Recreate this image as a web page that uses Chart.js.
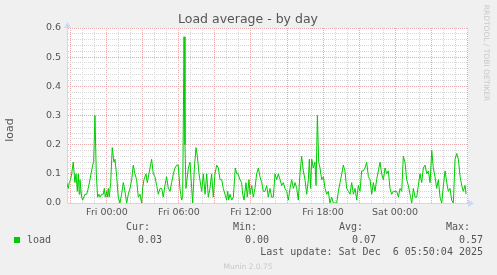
<!DOCTYPE html>
<html>
<head>
<meta charset="utf-8">
<script src="https://cdn.jsdelivr.net/npm/chart.js@4/dist/chart.umd.min.js"></script>
<style>
  body { margin: 0; background: #f0f0f0; }
  #canvas { display: block; }
</style>
</head>
<body>
<canvas id="canvas" width="497" height="275"></canvas>
<script>
// hours since Fri 00:00
var times = [
    -3.36, -3.22, -3.14, -3.03, -2.94, -2.81, -2.67, -2.58, -2.47, -2.39, -2.31, -2.25, -2.11, -2.03,
    -1.83, -1.69, -1.56, -1.42, -1.28, -1.19, -1.11, -1.00, -0.89, -0.78, -0.67, -0.58, -0.44, -0.31,
    -0.22, -0.14, -0.03, 0.03, 0.11, 0.19, 0.31, 0.44, 0.58, 0.67, 0.81, 0.94, 1.08, 1.22, 1.36, 1.50,
    1.64, 1.78, 1.92, 2.06, 2.19, 2.33, 2.47, 2.61, 2.75, 2.89, 2.97, 3.08, 3.25, 3.36, 3.72, 3.86,
    4.00, 4.14, 4.28, 4.42, 4.56, 4.69, 4.83, 4.97, 5.11, 5.25, 5.39, 5.53, 5.67, 5.81, 5.94, 6.08,
    6.22, 6.31, 6.42, 6.50, 6.58, 6.78, 6.92, 7.06, 7.14, 7.28, 7.42, 7.53, 7.67, 7.75, 7.89, 8.03,
    8.17, 8.31, 8.44, 8.58, 8.72, 8.86, 9.00, 9.14, 9.28, 9.42, 9.56, 9.69, 9.83, 9.97, 10.06, 10.14,
    10.25, 10.39, 10.53, 10.69, 10.81, 10.92,
    11.08, 11.22, 11.31, 11.42, 11.58, 11.69, 11.83, 11.92, 12.06, 12.19, 12.33, 12.47, 12.61, 12.75,
    12.89, 13.03, 13.17, 13.31, 13.44, 13.58, 13.72, 13.86, 14.00, 14.14, 14.28, 14.42, 14.56, 14.69,
    14.83, 14.97, 15.11, 15.25, 15.39, 15.53, 15.67, 15.81, 15.94, 16.08, 16.22, 16.36, 16.50, 16.64,
    16.78, 16.86, 16.97, 17.06, 17.19, 17.33, 17.42, 17.53, 17.64, 17.75, 17.89, 18.03, 18.17, 18.31,
    18.44, 18.58, 18.72, 18.86, 19.00, 19.14, 19.28, 19.42, 19.56, 19.69, 19.83, 19.97, 20.11, 20.25,
    20.39, 20.53, 20.67, 20.81, 20.94, 21.08, 21.22, 21.36, 21.50, 21.64, 21.78, 21.92, 22.06, 22.19,
    22.33, 22.47, 22.61, 22.75, 22.89, 23.03, 23.17, 23.31, 23.44, 23.58, 23.72, 23.86, 24.00, 24.14,
    24.28, 24.42, 24.56, 24.69, 24.83, 24.97, 25.11, 25.25, 25.39, 25.53, 25.67, 25.81, 25.94, 26.08,
    26.22, 26.36, 26.50, 26.64, 26.78, 26.92, 27.06, 27.19, 27.33, 27.47, 27.61, 27.75, 27.89, 28.03,
    28.17, 28.31, 28.44, 28.58, 28.72, 28.86, 29.00, 29.14, 29.28, 29.42, 29.56, 29.69, 29.83, 29.92
];
var load = [
    0.07, 0.05, 0.07, 0.08, 0.10, 0.14, 0.07, 0.10, 0.04, 0.10, 0.03, 0.08, 0.02, 0.01,
    0.03, 0.03, 0.05, 0.08, 0.11, 0.13, 0.14, 0.30, 0.10, 0.02, 0.03, 0.02, 0.03, 0.03,
    0.05, 0.02, 0.04, 0.02, 0.05, 0.02, 0.07, 0.19, 0.14, 0.15, 0.09, 0.02, 0.00, 0.03, 0.07, 0.04,
    0.00, 0.03, 0.05, 0.08, 0.13, 0.10, 0.08, 0.02, 0.03, 0.00, 0.05, 0.08, 0.10, 0.07, 0.15, 0.10,
    0.09, 0.06, 0.03, 0.05, 0.05, 0.02, 0.06, 0.09, 0.05, 0.04, 0.07, 0.10, 0.12, 0.13, 0.13, 0.05,
    0.01, 0.02, 0.57, 0.20, 0.05, 0.12, 0.14, 0.05, 0.00, 0.12, 0.19, 0.16, 0.10, 0.10, 0.04, 0.10,
    0.03, 0.10, 0.02, 0.05, 0.10, 0.02, 0.10, 0.13, 0.12, 0.08, 0.08, 0.05, 0.03, 0.01, 0.04, 0.01,
    0.03, 0.01, 0.02, 0.12, 0.10, 0.10,
    0.08, 0.07, 0.03, 0.01, 0.07, 0.02, 0.08, 0.03, 0.06, 0.02, 0.05, 0.10, 0.12, 0.09,
    0.07, 0.04, 0.04, 0.06, 0.02, 0.05, 0.02, 0.02, 0.10, 0.08, 0.10, 0.08, 0.06, 0.07,
    0.05, 0.04, 0.01, 0.05, 0.08, 0.05, 0.07, 0.05, 0.01, 0.10, 0.16, 0.11, 0.08, 0.03,
    0.08, 0.15, 0.05, 0.15, 0.12, 0.14, 0.06, 0.30, 0.14, 0.12, 0.08, 0.09, 0.05, 0.03,
    0.04, 0.00, 0.02, 0.00, 0.00, 0.00, 0.04, 0.07, 0.10, 0.13, 0.11, 0.05, 0.04, 0.03,
    0.07, 0.03, 0.05, 0.01, 0.06, 0.04, 0.11, 0.11, 0.12, 0.14, 0.09, 0.08, 0.03, 0.07,
    0.04, 0.08, 0.11, 0.14, 0.10, 0.08, 0.12, 0.10, 0.11, 0.05, 0.03, 0.04, 0.04, 0.04,
    0.02, 0.05, 0.04, 0.16, 0.14, 0.08, 0.06, 0.03, 0.00, 0.05, 0.02, 0.02, 0.06, 0.10,
    0.07, 0.12, 0.13, 0.10, 0.11, 0.07, 0.18, 0.12, 0.09, 0.05, 0.08, 0.02, 0.00, 0.06,
    0.11, 0.07, 0.04, 0.05, 0.01, 0.00, 0.15, 0.17, 0.15, 0.09, 0.06, 0.04, 0.06, 0.03
];

var xTickHours = [0, 6, 12, 18, 24];
var xTickLabels = ['Fri 00:00', 'Fri 06:00', 'Fri 12:00', 'Fri 18:00', 'Sat 00:00'];
var xMin = -3.33;
var xMax = 30.08;

var statNames = ['Cur:', 'Min:', 'Avg:', 'Max:'];
var statValues = ['0.03', '0.00', '0.07', '0.57'];
var lastUpdate = 'Last update: Sat Dec  6 05:50:04 2025';

var points = [];
for (var i = 0; i < times.length; i++) {
    points.push({x: times[i], y: load[i]});
}

var MAJOR = '#e8aaaa';
var MINOR = '#d6d6d6';
var AXIS = '#cfd6f8';

var munin = {
    id: 'munin',
    beforeDraw: function (chart) {
        var ctx = chart.ctx;
        var a = chart.chartArea;
        ctx.save();
        ctx.fillStyle = '#f0f0f0';
        ctx.fillRect(0, 0, chart.width, chart.height);
        ctx.fillStyle = '#ffffff';
        ctx.fillRect(a.left, a.top, a.right - a.left, a.bottom - a.top);
        ctx.restore();
    },
    afterDraw: function (chart) {
        var ctx = chart.ctx;
        var a = chart.chartArea;
        ctx.save();

        // arrows
        ctx.fillStyle = AXIS;
        ctx.beginPath();
        ctx.moveTo(a.left - 3, a.top);
        ctx.lineTo(a.left + 0.5, a.top - 6);
        ctx.lineTo(a.left + 4, a.top);
        ctx.fill();
        ctx.beginPath();
        ctx.moveTo(a.right, a.bottom - 3.5);
        ctx.lineTo(a.right + 6, a.bottom + 0.5);
        ctx.lineTo(a.right, a.bottom + 4);
        ctx.fill();

        // title
        ctx.fillStyle = '#555555';
        ctx.font = '12.5px "DejaVu Sans"';
        ctx.textAlign = 'center';
        ctx.textBaseline = 'middle';
        ctx.fillText('Load average - by day', 248, 20);

        // y label
        ctx.save();
        ctx.translate(10, 130);
        ctx.rotate(-Math.PI / 2);
        ctx.font = '11px "DejaVu Sans"';
        ctx.fillText('load', 0, 0);
        ctx.restore();

        // side credit
        ctx.save();
        ctx.translate(486, 53);
        ctx.rotate(Math.PI / 2);
        ctx.fillStyle = '#c8c8c8';
        ctx.font = '7.5px "DejaVu Sans"';
        ctx.fillText('RRDTOOL / TOBI OETIKER', 0, 0);
        ctx.restore();

        // legend
        ctx.font = '10px "DejaVu Sans Mono"';
        ctx.fillStyle = '#555555';
        ctx.textAlign = 'right';
        var headX = [150, 257, 363, 470];
        var valX = [162, 269, 376, 483];
        for (var i = 0; i < statNames.length; i++) {
            ctx.fillText(statNames[i], headX[i], 227);
            ctx.fillText(statValues[i], valX[i], 240);
        }
        ctx.fillText(lastUpdate, 483, 252);
        ctx.textAlign = 'left';
        ctx.fillText('load', 27, 240);
        ctx.fillStyle = '#00cc00';
        ctx.fillRect(14, 237, 6, 6);

        ctx.fillStyle = '#c8c8c8';
        ctx.font = '7.5px "DejaVu Sans"';
        ctx.textAlign = 'center';
        ctx.fillText('Munin 2.0.75', 248, 267);

        ctx.restore();
    }
};

var config = {
    type: 'line',
    data: {
        datasets: [{
            label: 'load',
            data: points,
            borderColor: '#00cc00',
            backgroundColor: '#00cc00',
            borderWidth: 1,
            pointRadius: 0,
            tension: 0,
            fill: false
        }]
    },
    options: {
        responsive: false,
        animation: false,
        layout: {
            padding: {top: 28, right: 29, left: 0, bottom: 0}
        },
        plugins: {
            legend: {display: false},
            title: {display: false},
            tooltip: {enabled: false}
        },
        scales: {
            x: {
                type: 'linear',
                min: xMin,
                max: xMax,
                afterFit: function (scale) { scale.height = 72; },
                ticks: {
                    stepSize: 1,
                    includeBounds: false,
                    autoSkip: false,
                    maxRotation: 0,
                    padding: 4,
                    color: '#555555',
                    font: {family: 'DejaVu Sans', size: 9.5},
                    callback: function (value) {
                        var k = xTickHours.indexOf(Math.round(value));
                        return k >= 0 ? xTickLabels[k] : '';
                    }
                },
                grid: {
                    drawTicks: false,
                    color: function (c) {
                        return Math.round(c.tick.value) % 3 === 0 ? MAJOR : MINOR;
                    }
                },
                border: {color: AXIS, dash: [1, 1]}
            },
            y: {
                min: 0,
                max: 0.6,
                afterFit: function (scale) { scale.width = 67; },
                ticks: {
                    stepSize: 0.02,
                    autoSkip: false,
                    padding: 6,
                    color: '#555555',
                    font: {family: 'DejaVu Sans', size: 9.5},
                    callback: function (value) {
                        var n = Math.round(value * 100);
                        return n % 10 === 0 ? (n / 100).toFixed(1) : '';
                    }
                },
                grid: {
                    drawTicks: false,
                    color: function (c) {
                        return Math.round(c.tick.value * 100) % 10 === 0 ? MAJOR : MINOR;
                    }
                },
                border: {color: AXIS, dash: [1, 1]}
            }
        }
    },
    plugins: [munin]
};

window.onload = function () {
    var ctx = document.getElementById('canvas').getContext('2d');
    window.myLine = new Chart(ctx, config);
};
</script>
</body>
</html>
